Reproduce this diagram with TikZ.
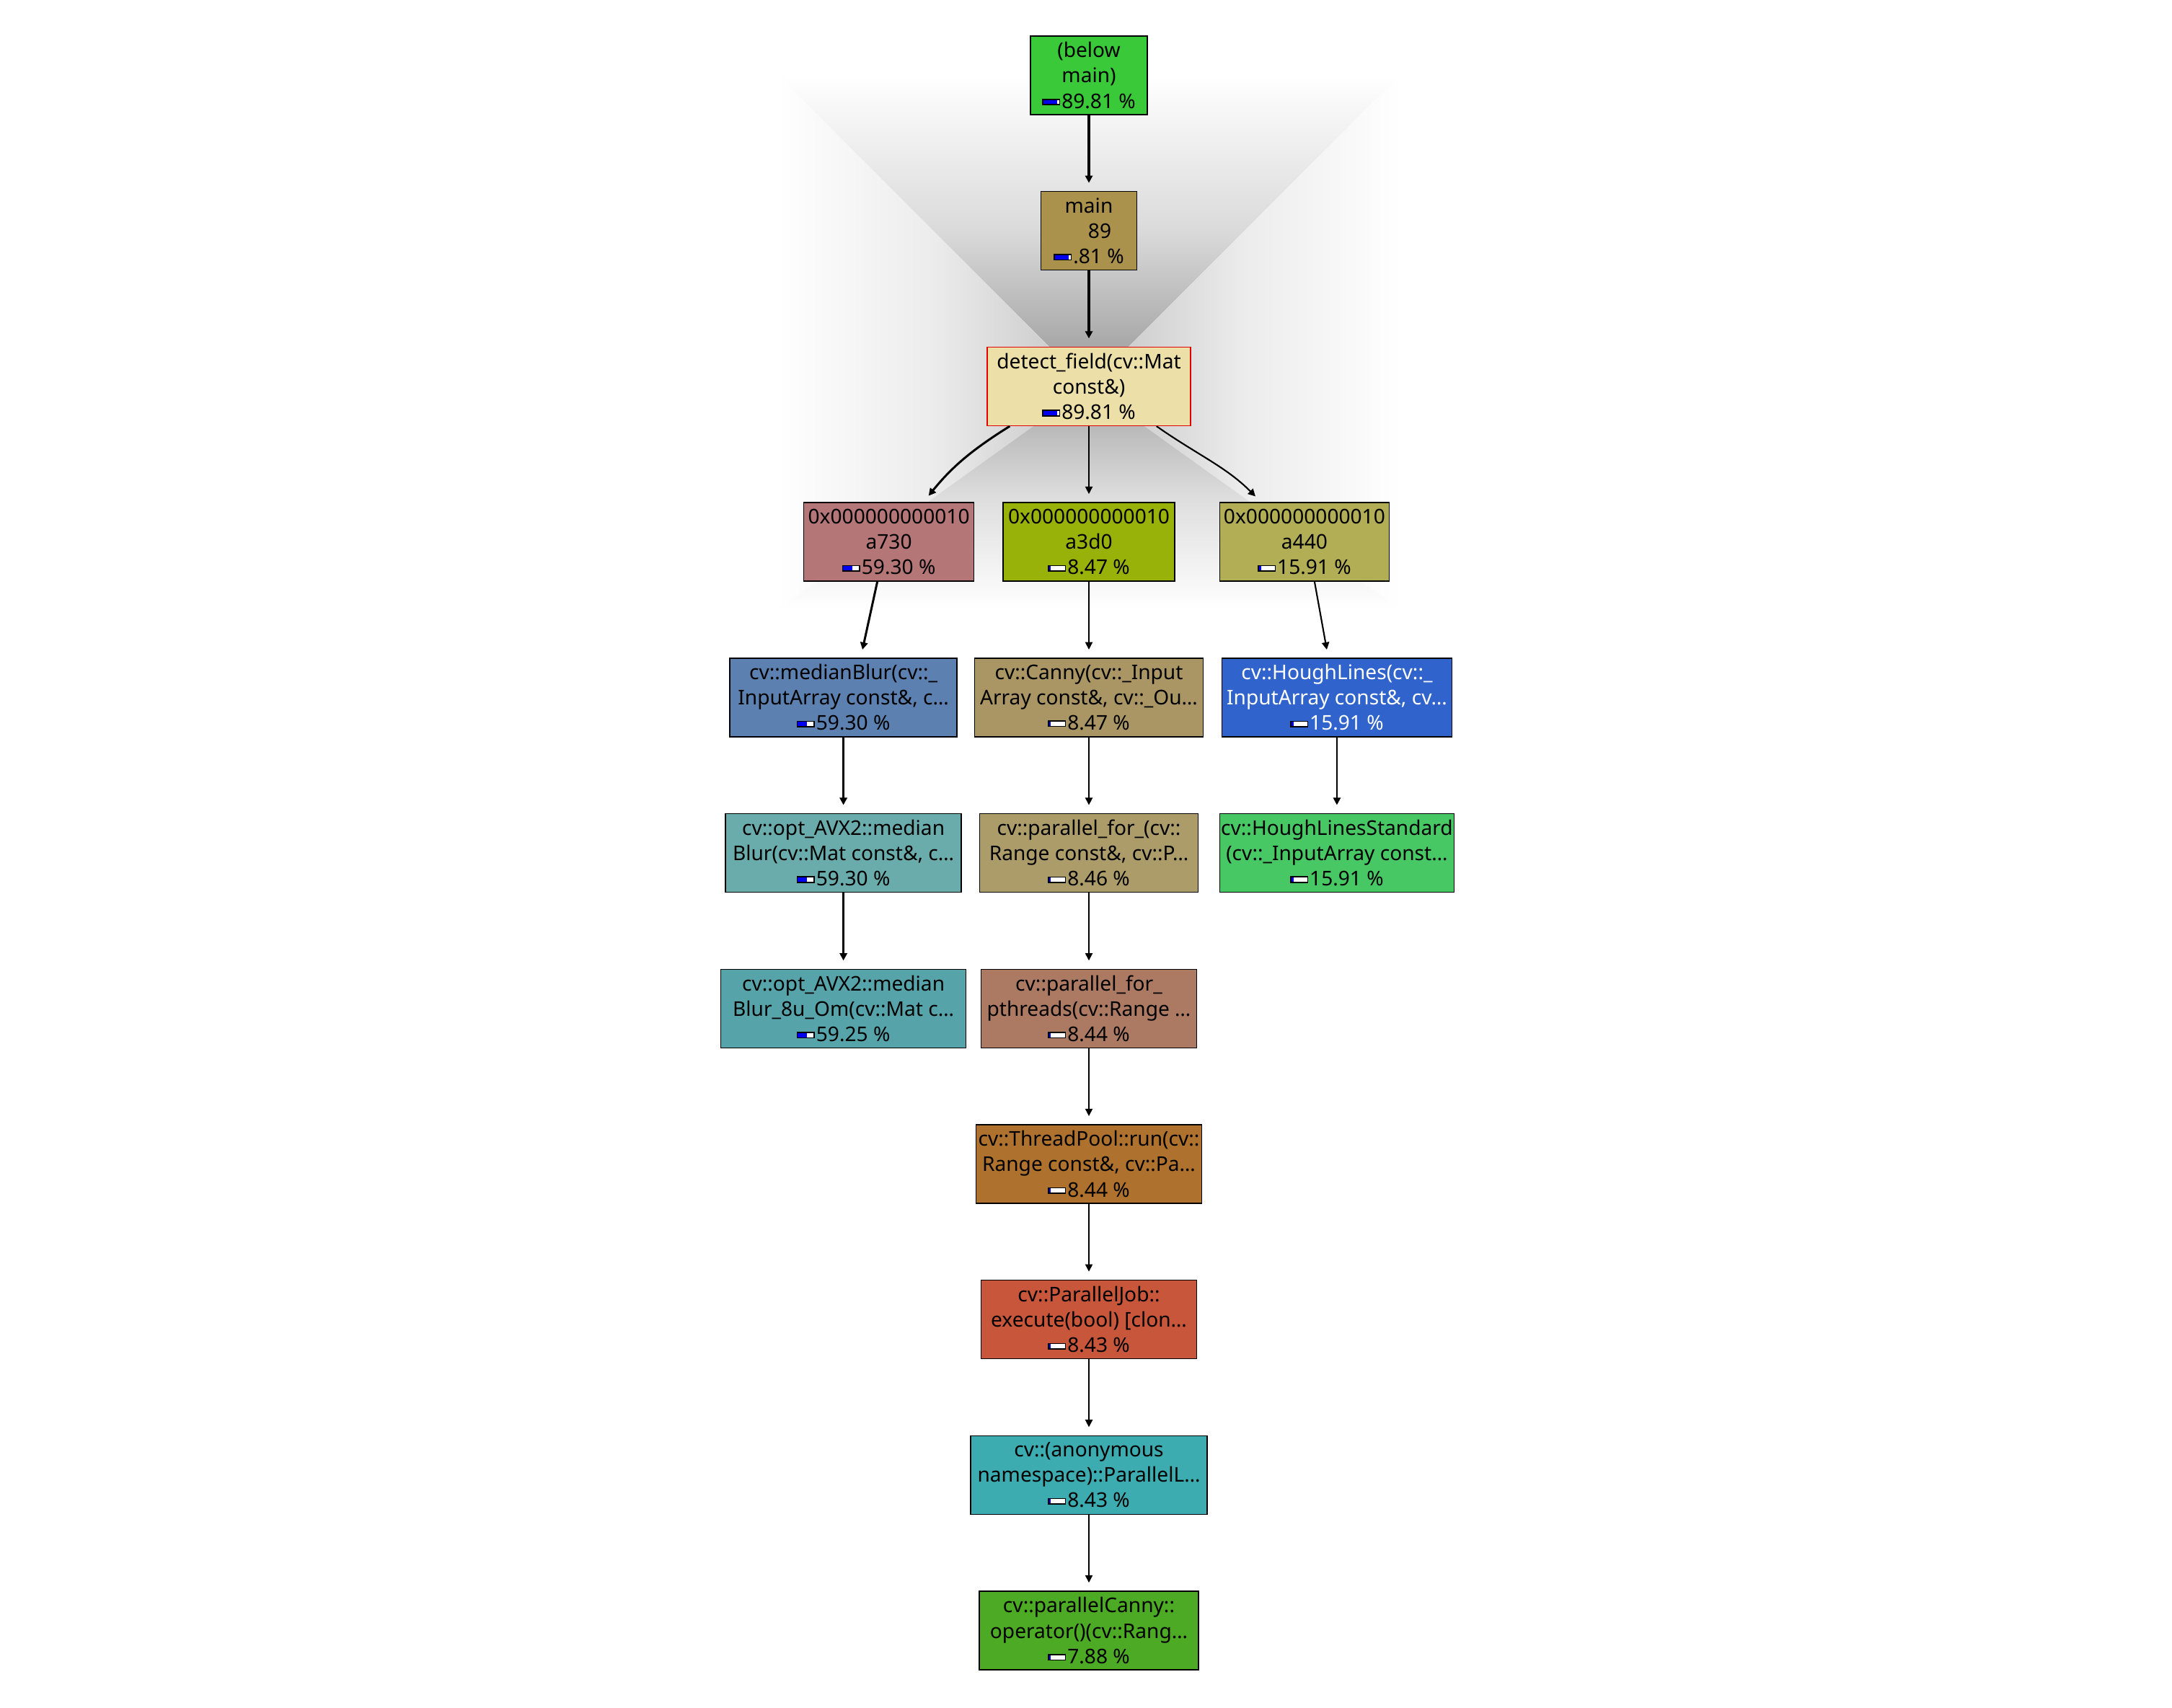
\documentclass[tikz,border=0pt]{standalone}
\usepackage{fontspec}
\setmainfont{Noto Sans}
\usepackage{xcolor}
\usepackage{tikz}
\usetikzlibrary{arrows.meta,positioning,backgrounds}
\definecolor{belowgreen}{RGB}{57,201,57}
\definecolor{mainbrown}{RGB}{170,145,76}
\definecolor{detectsand}{RGB}{236,223,168}
\definecolor{rosenode}{RGB}{180,118,118}
\definecolor{olivenode}{RGB}{152,178,10}
\definecolor{khakinode}{RGB}{178,174,86}
\definecolor{steelnode}{RGB}{92,128,176}
\definecolor{cannytan}{RGB}{170,150,100}
\definecolor{houghblue}{RGB}{48,100,204}
\definecolor{optteal}{RGB}{106,172,172}
\definecolor{pfortan}{RGB}{172,156,106}
\definecolor{hlsgreen}{RGB}{72,200,100}
\definecolor{blurteal}{RGB}{86,164,170}
\definecolor{pthreadbrown}{RGB}{172,122,98}
\definecolor{poolbrown}{RGB}{174,114,46}
\definecolor{jobred}{RGB}{200,86,58}
\definecolor{anoncyan}{RGB}{60,172,176}
\definecolor{cannygreen}{RGB}{76,170,36}
\definecolor{glowtop}{RGB}{150,150,150}
\definecolor{glowtopmid}{RGB}{218,218,218}
\definecolor{glowside}{RGB}{196,196,196}
\definecolor{glowsidemid}{RGB}{236,236,236}
\definecolor{glowbottom}{RGB}{165,165,165}
\definecolor{glowbottommid}{RGB}{222,222,222}
\definecolor{costblue}{RGB}{0,0,240}

% small cost bar in front of the percentage
\newlength{\barlen}\setlength{\barlen}{6.2pt}
\newlength{\barht}\setlength{\barht}{1.7pt}
\newcommand{\costbar}[1]{\raisebox{1.6pt}{\setlength{\fboxsep}{0pt}\setlength{\fboxrule}{0.45pt}%
  \fcolorbox{black}{white}{\textcolor{costblue}{\rule{#1\barlen}{\barht}}\rule{0pt}{\barht}%
  \hspace{\dimexpr\barlen-#1\barlen\relax}}}\hspace{0.6pt}}

\begin{document}
\begin{tikzpicture}[
    node distance=1.053cm,
    fn/.style={draw=black, line width=0.4pt, align=center,
               minimum height=1.09cm, inner xsep=0.5pt, inner ysep=1pt,
               font=\fontsize{8}{10}\selectfont},
    callheavy/.style={draw, line width=0.95pt, shorten >=3.2pt,
                      -{Triangle[length=2.9pt, width=2.9pt]}},
    callmid/.style={draw, line width=0.85pt, shorten >=3.2pt,
                    -{Triangle[length=2.9pt, width=2.9pt]}},
    callhough/.style={draw, line width=0.6pt, shorten >=3.2pt,
                      -{Triangle[length=2.9pt, width=2.9pt]}},
    calllight/.style={draw, line width=0.45pt, shorten >=3.2pt,
                      -{Triangle[length=2.9pt, width=2.9pt]}},
]
    \useasboundingbox (0,0) rectangle (30.12,-23.68);

    % center column
    \node[fn, fill=belowgreen, minimum width=1.62cm] (belowmain) at (15.10,-1.045)
        {(below\\main)\\\costbar{.8981}89.81 \%};
    \node[fn, fill=mainbrown, minimum width=1.33cm, below=of belowmain] (main)
        {main\\\hspace*{0.3cm}89\\\costbar{.8981}.81 \%};
    \node[fn, fill=detectsand, draw=red!90!black, minimum width=2.82cm, below=of main] (detect)
        {detect\_field(cv::Mat\\const\&)\\\costbar{.8981}89.81 \%};
    \node[fn, fill=olivenode, minimum width=2.38cm, below=of detect] (a3d0)
        {0x000000000010\\a3d0\\\costbar{.0847}8.47 \%};
    \node[fn, fill=rosenode, minimum width=2.36cm, left=0.39cm of a3d0] (a730)
        {0x000000000010\\a730\\\costbar{.593}59.30 \%};
    \node[fn, fill=khakinode, minimum width=2.35cm, right=0.61cm of a3d0] (a440)
        {0x000000000010\\a440\\\costbar{.1591}15.91 \%};

    \node[fn, fill=steelnode, minimum width=3.15cm, below=of a730, xshift=-6.3mm] (medianblur)
        {cv::medianBlur(cv::\_\\InputArray const\&, c…\\\costbar{.593}59.30 \%};
    \node[fn, fill=cannytan, minimum width=3.17cm, below=of a3d0] (canny)
        {cv::Canny(cv::\_Input\\Array const\&, cv::\_Ou…\\\costbar{.0847}8.47 \%};
    \node[fn, fill=houghblue, text=white, minimum width=3.19cm, below=of a440, xshift=4.5mm] (houghlines)
        {cv::HoughLines(cv::\_\\InputArray const\&, cv…\\\costbar{.1591}15.91 \%};

    \node[fn, fill=optteal, minimum width=3.27cm, below=of medianblur] (optmedian)
        {cv::opt\_AVX2::median\\Blur(cv::Mat const\&, c…\\\costbar{.593}59.30 \%};
    \node[fn, fill=pfortan, minimum width=3.03cm, below=of canny] (parallelfor)
        {cv::parallel\_for\_(cv::\\Range const\&, cv::P…\\\costbar{.0846}8.46 \%};
    \node[fn, fill=hlsgreen, minimum width=3.23cm, below=of houghlines] (houghstd)
        {cv::HoughLinesStandard\\(cv::\_InputArray const…\\\costbar{.1591}15.91 \%};

    \node[fn, fill=blurteal, minimum width=3.40cm, below=of optmedian] (blureight)
        {cv::opt\_AVX2::median\\Blur\_8u\_Om(cv::Mat c…\\\costbar{.5925}59.25 \%};
    \node[fn, fill=pthreadbrown, minimum width=2.99cm, below=of parallelfor] (pthreads)
        {cv::parallel\_for\_\\pthreads(cv::Range …\\\costbar{.0844}8.44 \%};
    \node[fn, fill=poolbrown, minimum width=3.13cm, below=of pthreads] (threadpool)
        {cv::ThreadPool::run(cv::\\Range const\&, cv::Pa…\\\costbar{.0844}8.44 \%};
    \node[fn, fill=jobred, minimum width=2.99cm, below=of threadpool] (paralleljob)
        {cv::ParallelJob::\\execute(bool) [clon…\\\costbar{.0843}8.43 \%};
    \node[fn, fill=anoncyan, minimum width=3.28cm, below=of paralleljob] (anonloop)
        {cv::(anonymous\\namespace)::ParallelL…\\\costbar{.0843}8.43 \%};
    \node[fn, fill=cannygreen, minimum width=3.04cm, below=of anonloop] (parcanny)
        {cv::parallelCanny::\\operator()(cv::Rang…\\\costbar{.0788}7.88 \%};

    % grey glow round the selected function
    \begin{scope}[on background layer]
        \coordinate (glow) at (detect.center);
        \shade[top color=white, bottom color=glowtop, middle color=glowtopmid]
            (glow) -- ++(-4.32,4.32) -- ++(8.64,0) -- cycle;
        \shade[left color=white, right color=glowside, middle color=glowsidemid]
            (glow) -- ++(-4.32,4.32) -- ++(0,-7.42) -- cycle;
        \shade[right color=white, left color=glowside, middle color=glowsidemid]
            (glow) -- ++(4.32,4.32) -- ++(0,-7.42) -- cycle;
        \shade[bottom color=white, top color=glowbottom, middle color=glowbottommid]
            (glow) -- ++(-4.32,-3.10) -- ++(8.64,0) -- cycle;
    \end{scope}

    % calls
    \draw[callheavy] (belowmain) -- (main);
    \draw[callheavy] (main) -- (detect);
    \draw[callmid] ([xshift=3.2mm]detect.south west) to[out=-148, in=51] ([xshift=4.8mm]a730.north);
    \draw[calllight] (detect) -- (a3d0);
    \draw[callhough] ([xshift=-4.8mm]detect.south east) to[out=-35, in=135] ([xshift=-6mm]a440.north);
    \draw[callmid] ([xshift=-1.6mm]a730.south) -- ([xshift=2.4mm]medianblur.north);
    \draw[calllight] (a3d0) -- (canny);
    \draw[callhough] ([xshift=1.4mm]a440.south) -- ([xshift=-1.2mm]houghlines.north);
    \draw[callmid] (medianblur) -- (optmedian);
    \draw[calllight] (canny) -- (parallelfor);
    \draw[callhough] (houghlines) -- (houghstd);
    \draw[callmid] (optmedian) -- (blureight);
    \draw[calllight] (parallelfor) -- (pthreads);
    \draw[calllight] (pthreads) -- (threadpool);
    \draw[calllight] (threadpool) -- (paralleljob);
    \draw[calllight] (paralleljob) -- (anonloop);
    \draw[calllight] (anonloop) -- (parcanny);
\end{tikzpicture}
\end{document}
